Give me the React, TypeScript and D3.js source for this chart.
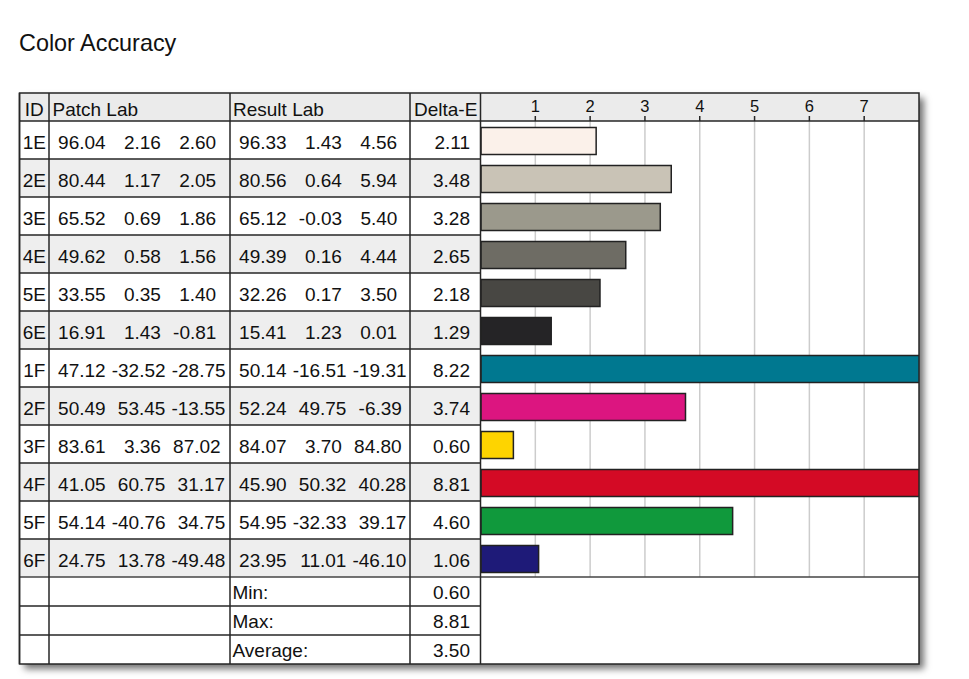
import React from "react";
import * as d3 from "d3";

const ids = ["1E", "2E", "3E", "4E", "5E", "6E", "1F", "2F", "3F", "4F", "5F", "6F"];
const patchL = [96.04, 80.44, 65.52, 49.62, 33.55, 16.91, 47.12, 50.49, 83.61, 41.05, 54.14, 24.75];
const patchA = [2.16, 1.17, 0.69, 0.58, 0.35, 1.43, -32.52, 53.45, 3.36, 60.75, -40.76, 13.78];
const patchB = [2.6, 2.05, 1.86, 1.56, 1.4, -0.81, -28.75, -13.55, 87.02, 31.17, 34.75, -49.48];
const resultL = [96.33, 80.56, 65.12, 49.39, 32.26, 15.41, 50.14, 52.24, 84.07, 45.9, 54.95, 23.95];
const resultA = [1.43, 0.64, -0.03, 0.16, 0.17, 1.23, -16.51, 49.75, 3.7, 50.32, -32.33, 11.01];
const resultB = [4.56, 5.94, 5.4, 4.44, 3.5, 0.01, -19.31, -6.39, 84.8, 40.28, 39.17, -46.1];
const deltaE = [2.11, 3.48, 3.28, 2.65, 2.18, 1.29, 8.22, 3.74, 0.6, 8.81, 4.6, 1.06];
const patchColors = [
  "#fbf1ea", "#c9c3b6", "#9b998c", "#6e6c64", "#484743", "#252426",
  "#007890", "#dc1580", "#fed400", "#d40a25", "#10993c", "#1e1a78",
];
const tickValues = [1, 2, 3, 4, 5, 6, 7];
const summaryLabels = ["Min:", "Max:", "Average:"];

const FONT = "'Liberation Sans', Arial, sans-serif";
const FS = 19;
const SPACE_W = 6.1;
const charW: Record<string, number> = { "-": 0.333, ".": 0.278 };
function strWidth(s: string) {
  let w = 0;
  for (const c of s) {
    if (c === " ") w += SPACE_W;
    else w += (charW[c] ?? 0.556) * FS;
  }
  return w;
}
function pad(v: number) {
  return v.toFixed(2).padStart(6, " ");
}
// returns end positions of each number in a space-padded triple
function tripleEnds(x0: number, vals: number[]) {
  const ends: number[] = [];
  let s = "";
  vals.forEach((v, i) => {
    s += (i > 0 ? " " : "") + pad(v);
    ends.push(x0 + strWidth(s));
  });
  return ends;
}

export default function App() {
  const colX = [19.5, 49, 230, 410, 480.5];
  const right = 919;
  const top = 93;
  const headH = 28;
  const rowH = 38;
  const sumH = 29;
  const bodyTop = top + headH;
  const barsBottom = bodyTop + rowH * ids.length;
  const bottom = barsBottom + sumH * 3;

  const x = d3.scaleLinear().domain([0, 8]).range([colX[4], right]);
  const yRow = d3.scaleBand<number>().domain(d3.range(ids.length)).range([bodyTop, barsBottom]);

  const minV = d3.min(deltaE)!;
  const maxV = d3.max(deltaE)!;
  const avgV = d3.mean(deltaE)!;
  const summaryVals = [minV, maxV, avgV];

  const dark = "#262626";

  return (
    <svg width={969} height={679} style={{ position: "absolute", left: 0, top: 0 }} fontFamily={FONT}>
      <defs>
        <filter id="sh" x="-5%" y="-5%" width="115%" height="115%">
          <feDropShadow dx={5} dy={5} stdDeviation={3.5} floodColor="#000" floodOpacity={0.55} />
        </filter>
        <clipPath id="barclip">
          <rect x={colX[4]} y={bodyTop} width={right - colX[4]} height={barsBottom - bodyTop} />
        </clipPath>
      </defs>
      <rect width={969} height={679} fill="#fff" />
      <text x={19} y={51} fontSize={23.4} fill="#111">Color Accuracy</text>

      {/* frame with shadow */}
      <rect x={colX[0]} y={top} width={right - colX[0]} height={bottom - top} fill="#fff" filter="url(#sh)" />

      {/* header bg */}
      <rect x={colX[0]} y={top} width={right - colX[0]} height={headH} fill="#ebebeb" />
      {/* alternating rows */}
      {ids.map((_, i) =>
        i % 2 === 1 ? (
          <rect key={"bg" + i} x={colX[0]} y={yRow(i)!} width={colX[4] - colX[0]} height={rowH} fill="#eeeeee" />
        ) : null
      )}

      {/* grid lines */}
      {tickValues.map((t) => (
        <line key={"g" + t} x1={x(t)} x2={x(t)} y1={bodyTop} y2={barsBottom} stroke="#cccccc" strokeWidth={1.5} />
      ))}

      {/* bars */}
      <g clipPath="url(#barclip)">
        {deltaE.map((v, i) => (
          <rect
            key={"b" + i}
            x={x(0) + 0.5}
            y={yRow(i)! + 6.5}
            width={x(Math.min(v, 8.2)) - x(0) - 0.5}
            height={27}
            fill={patchColors[i]}
            stroke="#222"
            strokeWidth={1.5}
          />
        ))}
      </g>

      {/* ticks and tick labels */}
      {tickValues.map((t) => (
        <g key={"t" + t}>
          <line x1={x(t)} x2={x(t)} y1={bodyTop - 5} y2={bodyTop} stroke={dark} strokeWidth={1.5} />
          <text x={x(t)} y={111.5} fontSize={16.5} textAnchor="middle" fill="#111">{t}</text>
        </g>
      ))}

      {/* header texts */}
      <g fontSize={FS} fill="#111">
        <text x={(colX[0] + colX[1]) / 2} y={116} textAnchor="middle">ID</text>
        <text x={colX[1] + 3.5} y={116}>Patch Lab</text>
        <text x={colX[2] + 3} y={116}>Result Lab</text>
        <text x={colX[3] + 4} y={116}>Delta-E</text>
      </g>

      {/* rows */}
      <g fontSize={FS} fill="#111">
        {ids.map((id, i) => {
          const by = yRow(i)! + 27.5;
          const pe = tripleEnds(colX[1] + 3, [patchL[i], patchA[i], patchB[i]]);
          const re = tripleEnds(colX[2] + 3, [resultL[i], resultA[i], resultB[i]]);
          const pv = [patchL[i], patchA[i], patchB[i]];
          const rv = [resultL[i], resultA[i], resultB[i]];
          return (
            <g key={"r" + i}>
              <text x={(colX[0] + colX[1]) / 2} y={by} textAnchor="middle">{id}</text>
              {pv.map((v, k) => (
                <text key={"p" + k} x={pe[k]} y={by} textAnchor="end">{v.toFixed(2)}</text>
              ))}
              {rv.map((v, k) => (
                <text key={"q" + k} x={re[k]} y={by} textAnchor="end">{v.toFixed(2)}</text>
              ))}
              <text x={colX[4] - 10.5} y={by} textAnchor="end">{deltaE[i].toFixed(2)}</text>
            </g>
          );
        })}
        {summaryLabels.map((lab, j) => {
          const by = barsBottom + sumH * j + 22;
          return (
            <g key={"s" + j}>
              <text x={colX[2] + 2.5} y={by}>{lab}</text>
              <text x={colX[4] - 10.5} y={by} textAnchor="end">{summaryVals[j].toFixed(2)}</text>
            </g>
          );
        })}
      </g>

      {/* table lines */}
      <g stroke={dark} strokeWidth={1.5} fill="none">
        {ids.map((_, i) =>
          i > 0 ? <line key={"hl" + i} x1={colX[0]} x2={colX[4]} y1={yRow(i)!} y2={yRow(i)!} /> : null
        )}
        {[1, 2].map((j) => (
          <line key={"sl" + j} x1={colX[0]} x2={colX[4]} y1={barsBottom + sumH * j} y2={barsBottom + sumH * j} />
        ))}
        <line x1={colX[0]} x2={right} y1={bodyTop} y2={bodyTop} />
        <line x1={colX[0]} x2={right} y1={barsBottom} y2={barsBottom} stroke="#444" />
        {colX.map((cx, k) => (
          <line key={"vl" + k} x1={cx} x2={cx} y1={top} y2={bottom} />
        ))}
        <rect x={colX[0]} y={top} width={right - colX[0]} height={bottom - top} />
      </g>
    </svg>
  );
}
